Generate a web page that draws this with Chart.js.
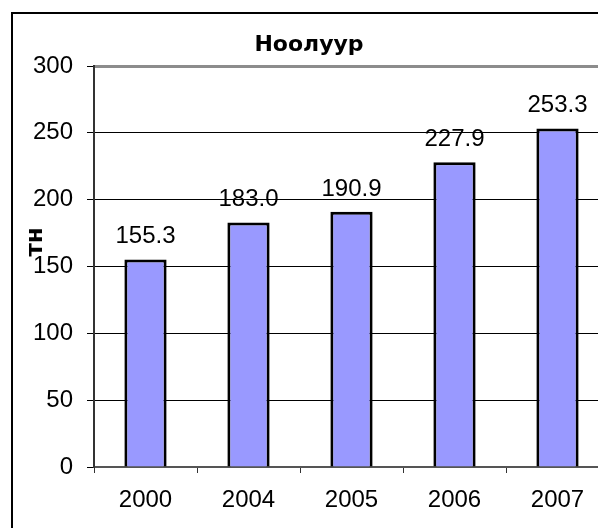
<!DOCTYPE html>
<html>
<head>
<meta charset="utf-8">
<script src="https://cdn.jsdelivr.net/npm/chart.js@4/dist/chart.umd.min.js"></script>
<style>
  html, body { margin: 0; padding: 0; background: #fff; overflow: hidden; }
  #wrap { position: relative; width: 598px; height: 528px; overflow: hidden; }
  #frame { position: absolute; left: 11px; top: 12px; width: 700px; height: 700px; border: 2px solid #000; box-sizing: border-box; pointer-events: none; }
  canvas { position: absolute; left: 0; top: 0; }
</style>
</head>
<body>
<div id="wrap">
  <canvas id="chart" width="640" height="528"></canvas>
  <div id="frame"></div>
</div>
<script>
const years = ['2000', '2004', '2005', '2006', '2007'];
const cashmere = [155.3, 183.0, 190.9, 227.9, 253.3];
const yTicks = [0, 50, 100, 150, 200, 250, 300];
const chartTitle = 'Ноолуур';
const unitLabel = 'тн';

const numFont = '24px "Liberation Sans", Arial, sans-serif';

// title, unit label and the value labels above the bars
const extras = {
  id: 'extras',
  afterDatasetsDraw(chart) {
    const ctx = chart.ctx;
    ctx.save();
    ctx.fillStyle = '#000';
    ctx.font = 'bold 22px "DejaVu Sans", Verdana, sans-serif';
    ctx.textAlign = 'center';
    ctx.textBaseline = 'alphabetic';
    ctx.fillText(chartTitle, 309, 51);

    ctx.save();
    ctx.translate(42, 242);
    ctx.rotate(-Math.PI / 2);
    ctx.font = 'bold 23px "DejaVu Sans", Verdana, sans-serif';
    ctx.fillText(unitLabel, 0, 0);
    ctx.restore();

    ctx.font = numFont;
    const meta = chart.getDatasetMeta(0);
    meta.data.forEach((bar, i) => {
      ctx.fillText(cashmere[i].toFixed(1), bar.x, bar.y - 16);
    });
    ctx.restore();
  }
};

const ctx = document.getElementById('chart').getContext('2d');
new Chart(ctx, {
  type: 'bar',
  data: {
    labels: years,
    datasets: [{
      data: cashmere,
      backgroundColor: '#9999FF',
      borderColor: '#000',
      borderWidth: 3,
      categoryPercentage: 1,
      barPercentage: 0.41
    }]
  },
  options: {
    responsive: false,
    animation: false,
    layout: { padding: { top: 66, right: 31, left: 0, bottom: 0 } },
    plugins: {
      legend: { display: false },
      title: { display: false },
      tooltip: { enabled: false }
    },
    scales: {
      x: {
        afterFit(scale) { scale.height = 61; },
        border: { color: '#555', width: 2 },
        grid: { drawOnChartArea: false, tickLength: 6, tickColor: '#333', tickWidth: 1 },
        ticks: { color: '#000', font: { family: '"Liberation Sans", Arial, sans-serif', size: 24 }, padding: 13 }
      },
      y: {
        min: 0,
        max: 300,
        afterFit(scale) { scale.width = 94; },
        afterBuildTicks(scale) { scale.ticks = yTicks.map(v => ({ value: v })); },
        border: { color: '#333', width: 2 },
        grid: {
          color: c => c.tick && c.tick.value === 300 ? '#8c8c8c' : '#000',
          lineWidth: c => c.tick && c.tick.value === 300 ? 3 : 1,
          tickLength: 7,
          tickColor: '#000',
          tickWidth: 1
        },
        ticks: { color: '#000', font: { family: '"Liberation Sans", Arial, sans-serif', size: 24 }, padding: 14 }
      }
    }
  },
  plugins: [extras]
});
</script>
</body>
</html>
